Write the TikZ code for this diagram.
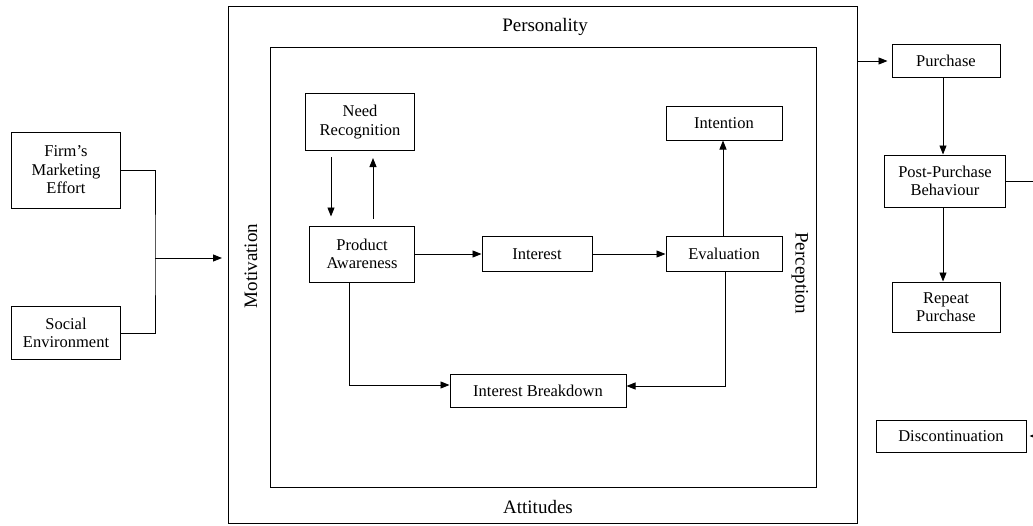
\documentclass[tikz,border=0pt]{standalone}
\usepackage{fontspec}
\setmainfont{Liberation Serif}
\usetikzlibrary{arrows.meta}
\begin{document}
\begin{tikzpicture}[x=1pt,y=-1pt,
  box/.style={draw, line width=1pt, inner sep=2pt, align=center,
              font=\fontsize{16.5}{18.5}\selectfont},
  frame/.style={draw, line width=0.9pt},
  lbl/.style={font=\fontsize{19}{21}\selectfont},
  link/.style={line width=0.9pt},
  arr/.style={link, -{Triangle[length=9pt,width=7pt]}}]
\useasboundingbox (0,0) rectangle (1033,525);

% context frames
\node[frame, minimum width=629, minimum height=517] (outer) at (542.5,264.5) {};
\node[frame, minimum width=546, minimum height=440] (inner) at (543,267) {};
\node[lbl] (pers) at (545,27) {Personality};
\node[lbl] (att) at (538,507) {Attitudes};
\node[lbl, rotate=90] (mot) at (251,266) {Motivation};
\node[lbl, rotate=-90] (perc) at (800,273) {Perception};

% external inputs
\node[box, minimum width=109, minimum height=76] (firm) at (66,170) {Firm's\\Marketing\\Effort};
\node[box, minimum width=109, minimum height=53] (social) at (66,333) {Social\\Environment};
\coordinate (join) at (155,258);
\coordinate (entry) at (222,258);

% decision process
\node[box, minimum width=109, minimum height=57] (need) at (360,122) {Need\\Recognition};
\node[box, minimum width=105, minimum height=56] (aware) at (362,254) {Product\\Awareness};
\node[box, minimum width=110, minimum height=35] (interest) at (537,254) {Interest};
\node[box, minimum width=116, minimum height=35] (eval) at (724,254) {Evaluation};
\node[box, minimum width=116, minimum height=34] (intent) at (724,123) {Intention};
\node[box, minimum width=176, minimum height=33] (breakdown) at (538,391) {Interest Breakdown};

% outcomes
\node[box, minimum width=108, minimum height=33] (purchase) at (946,61) {Purchase};
\node[box, minimum width=121, minimum height=52] (post) at (945,181) {Post-Purchase\\Behaviour};
\node[box, minimum width=108, minimum height=50] (repeat) at (946,307) {Repeat\\Purchase};
\node[box, minimum width=150, minimum height=32] (disc) at (951,436) {Discontinuation};
\coordinate (exitR) at (1033,181);
\coordinate (backR) at (1033,436);
\coordinate (outR) at (857,61);

% connectors
\draw[link] (firm.east) -| (join) |- (social.east);
\draw[arr] (join) -- (entry);

\draw[arr] ([xshift=-29pt,yshift=-6pt]need.south) -- ([xshift=-31pt,yshift=9pt]aware.north);
\draw[arr] ([xshift=11pt,yshift=7pt]aware.north) -- ([xshift=13pt,yshift=-7pt]need.south);
\draw[arr] (aware.east) -- (interest.west);
\draw[arr] (interest.east) -- (eval.west);
\draw[arr] ([xshift=-1pt]eval.north) -- ([xshift=-1pt]intent.south);
\draw[arr] ([xshift=-13pt]aware.south) |- ([yshift=6pt]breakdown.west);
\draw[arr] ([xshift=1pt]eval.south) |- ([yshift=5pt]breakdown.east);

\draw[arr] (outR) -- ([xshift=-4pt]purchase.west);
\draw[arr] ([xshift=-3pt]purchase.south) -- ([xshift=-2pt]post.north);
\draw[arr] ([xshift=-2pt]post.south) -- ([xshift=-3pt]repeat.north);
\draw[link] (post.east) -- (exitR);
\draw[arr] (backR) -- ([xshift=3pt]disc.east);
\end{tikzpicture}
\end{document}
